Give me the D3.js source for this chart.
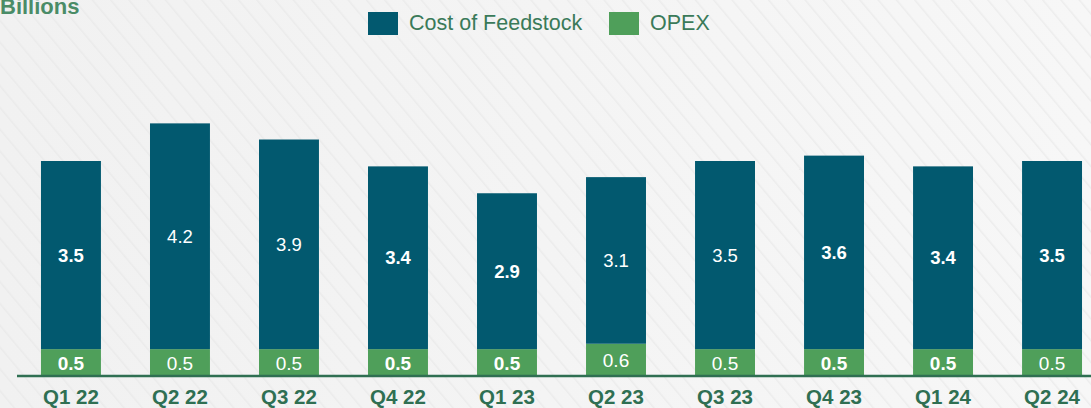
<!DOCTYPE html>
<html>
<head>
<meta charset="utf-8">
<script src="https://cdn.jsdelivr.net/npm/d3@7"></script>
<style>
  html, body { margin: 0; padding: 0; }
  body { width: 1091px; height: 408px; overflow: hidden; }
  svg { display: block; font-family: "Liberation Sans", Arial, sans-serif; }
</style>
</head>
<body>
<div id="chart"></div>
<script>
// values (billions)
var quarters = ["Q1 22", "Q2 22", "Q3 22", "Q4 22", "Q1 23", "Q2 23", "Q3 23", "Q4 23", "Q1 24", "Q2 24"];
var feedstock = [3.5, 4.2, 3.9, 3.4, 2.9, 3.1, 3.5, 3.6, 3.4, 3.5];
var opex = [0.5, 0.5, 0.5, 0.5, 0.5, 0.6, 0.5, 0.5, 0.5, 0.5];
var keys = ["opex", "feedstock"];
var legendNames = ["Cost of Feedstock", "OPEX"];

// which labels are set in bold in the original
var boldFeed = [1, 0, 0, 1, 1, 0, 0, 1, 1, 1];
var boldOpex = [1, 0, 0, 1, 1, 0, 0, 1, 1, 0];

var W = 1091, H = 408;
var color = { feedstock: "#02596f", opex: "#4f9f5a" };
var textGreen = "#2f6f52";

var data = quarters.map(function(q, i) {
  return { q: q, feedstock: feedstock[i], opex: opex[i], i: i };
});

var svg = d3.select("#chart").append("svg")
    .attr("width", W)
    .attr("height", H);

// soft background with faint diagonal stripes
var defs = svg.append("defs");
var grad = defs.append("linearGradient").attr("id", "bg").attr("x1", 0).attr("x2", 1);
grad.append("stop").attr("offset", "0%").attr("stop-color", "#f1f1f1");
grad.append("stop").attr("offset", "100%").attr("stop-color", "#f7f7f7");
var pat = defs.append("pattern").attr("id", "stripes")
    .attr("width", 14).attr("height", 14)
    .attr("patternUnits", "userSpaceOnUse")
    .attr("patternTransform", "rotate(-40)");
pat.append("line").attr("x1", 0).attr("y1", 0).attr("x2", 0).attr("y2", 14)
    .attr("stroke", "#e6e6e6").attr("stroke-width", 3);

svg.append("rect").attr("width", W).attr("height", H).attr("fill", "url(#bg)");
svg.append("rect").attr("width", W).attr("height", H).attr("fill", "url(#stripes)").attr("opacity", 0.6);

var x = d3.scaleBand()
    .domain(quarters)
    .range([17, 1106])
    .paddingInner(0.45)
    .paddingOuter(0.22);

var y = d3.scaleLinear()
    .domain([0, 5])
    .range([376, 107.25]);

var stack = d3.stack().keys(keys)(data);

var g = svg.append("g");

g.selectAll("g.layer")
  .data(stack)
  .enter().append("g")
    .attr("class", "layer")
    .attr("fill", function(d) { return color[d.key]; })
  .selectAll("rect")
  .data(function(d) { return d; })
  .enter().append("rect")
    .attr("x", function(d) { return x(d.data.q); })
    .attr("y", function(d) { return y(d[1]); })
    .attr("height", function(d) { return y(d[0]) - y(d[1]); })
    .attr("width", x.bandwidth());

// value labels
stack.forEach(function(layer) {
  var isOpex = layer.key === "opex";
  g.append("g")
    .selectAll("text")
    .data(layer)
    .enter().append("text")
      .attr("x", function(d) { return x(d.data.q) + x.bandwidth() / 2; })
      .attr("y", function(d) { return (y(d[0]) + y(d[1])) / 2; })
      .attr("dy", isOpex ? "0.38em" : "0.36em")
      .attr("text-anchor", "middle")
      .attr("fill", "#ffffff")
      .attr("font-size", isOpex ? 19 : 18.5)
      .attr("font-weight", function(d) {
        var b = isOpex ? boldOpex[d.data.i] : boldFeed[d.data.i];
        return b ? "bold" : "normal";
      })
      .text(function(d) { return d.data[layer.key].toFixed(1); });
});

// x axis
var xAxis = svg.append("g")
    .attr("transform", "translate(0,376)")
    .call(d3.axisBottom(x).tickSize(0));
xAxis.select(".domain").attr("stroke", textGreen).attr("stroke-width", 2.5)
    .attr("d", "M17,0H1091");
xAxis.selectAll(".tick text")
    .attr("y", 28)
    .attr("dy", 0)
    .attr("fill", textGreen)
    .attr("font-size", 20.5)
    .attr("font-weight", "bold")
    .attr("font-family", "Liberation Sans, Arial, sans-serif");

// unit label
svg.append("text")
    .attr("x", 0)
    .attr("y", 14)
    .attr("fill", "#4a8c67")
    .attr("font-size", 22)
    .attr("font-weight", "bold")
    .text("Billions");

// legend
var legend = svg.append("g");
var legendX = [368, 609];
var legendKeys = ["feedstock", "opex"];
legendKeys.forEach(function(k, i) {
  legend.append("rect")
      .attr("x", legendX[i]).attr("y", 12)
      .attr("width", 30).attr("height", 23)
      .attr("fill", color[k]);
  legend.append("text")
      .attr("x", legendX[i] + 41).attr("y", 30)
      .attr("fill", "#3a7a59")
      .attr("font-size", 21.5)
      .text(legendNames[i]);
});
</script>
</body>
</html>
